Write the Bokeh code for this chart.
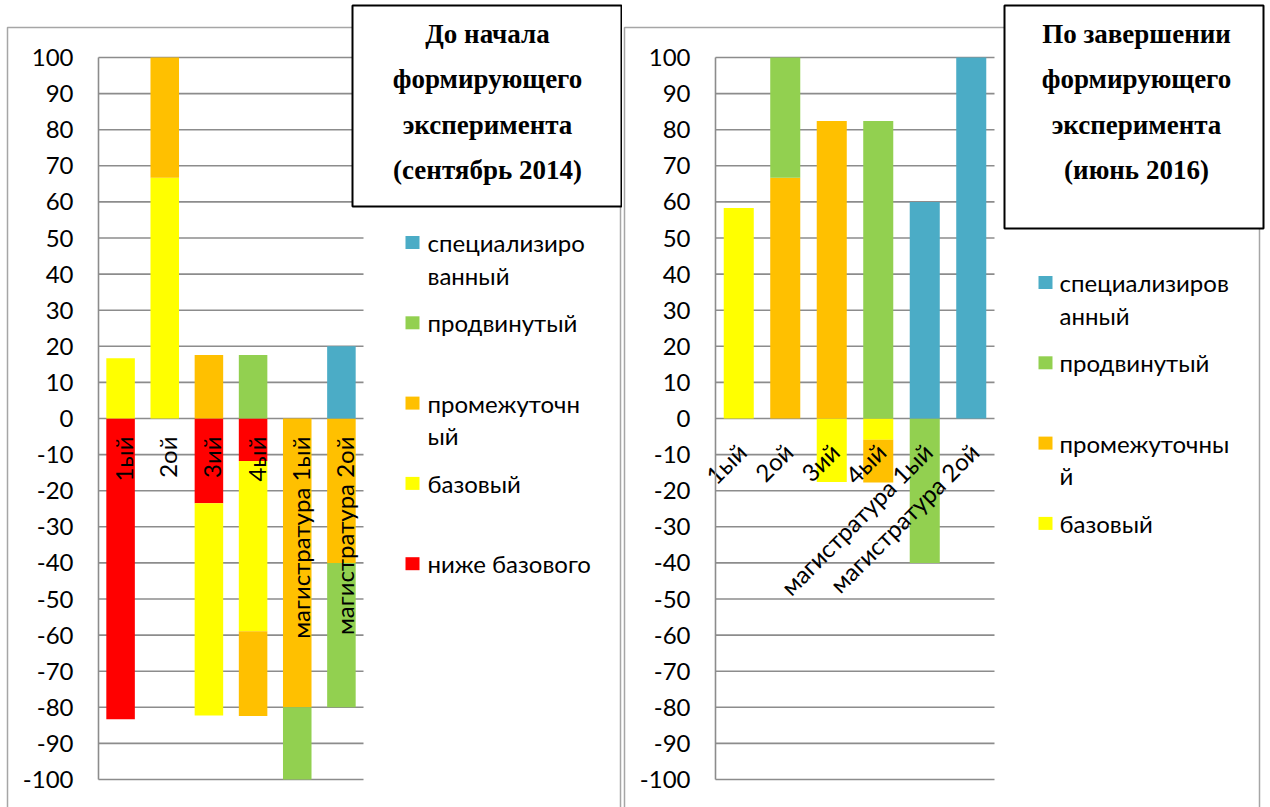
import numpy as np
from bokeh.plotting import figure
from bokeh.models import Range1d, LinearAxis, FixedTicker
from bokeh.layouts import row
from bokeh.core.properties import value
from bokeh.embed import file_html
from bokeh.resources import INLINE

# ---- data -------------------------------------------------------------
categories = ["1ый", "2ой", "3ий", "4ый", "магистратура 1ый", "магистратура 2ой"]
levels = ["ниже базового", "базовый", "промежуточный", "продвинутый", "специализированный"]
level_colors = ["#FF0000", "#FFFF00", "#FFC000", "#92D050", "#4BACC6"]

# September 2014 (signed shares, %)
below_2014 = [-83.3, 0.0, -23.5, -11.8, 0.0, 0.0]
basic_2014 = [16.7, 66.7, -58.8, -47.1, 0.0, 0.0]
inter_2014 = [0.0, 33.3, 17.6, -23.5, -80.0, -40.0]
adv_2014 = [0.0, 0.0, 0.0, 17.6, -20.0, -40.0]
spec_2014 = [0.0, 0.0, 0.0, 0.0, 0.0, 20.0]

# June 2016 (signed shares, %)
below_2016 = [0.0, 0.0, 0.0, 0.0, 0.0, 0.0]
basic_2016 = [58.3, 0.0, -17.6, -5.9, 0.0, 0.0]
inter_2016 = [0.0, 66.7, 82.4, -11.8, 0.0, 0.0]
adv_2016 = [0.0, 33.3, 0.0, 82.4, -40.0, 0.0]
spec_2016 = [0.0, 0.0, 0.0, 0.0, 60.0, 100.0]

y_ticks = list(range(-100, 101, 10))

title_2014 = ["До начала", "формирующего", "эксперимента", "(сентябрь 2014)"]
title_2016 = ["По завершении", "формирующего", "эксперимента", "(июнь 2016)"]

legend_2014 = ["специализиро\nванный", "продвинутый", "промежуточн\nый", "базовый", "ниже базового"]
legend_2016 = ["специализиров\nанный", "продвинутый", "промежуточны\nй", "базовый"]

# ---- styling ----------------------------------------------------------
SANS = "Lato"
SERIF = "Liberation Serif"
SANS_SIZE = "24px"
GRID = "#8c8c8c"
FRAME = "#a6a6a6"
H = 807


def stack_signed(series):
    """Stack signed series: positives upward, negatives downward from zero."""
    n = len(series[0])
    pos = np.zeros(n)
    neg = np.zeros(n)
    out = []
    for vals in series:
        v = np.asarray(vals, dtype=float)
        bottom = np.where(v >= 0, pos, neg)
        top = bottom + v
        pos = np.where(v >= 0, top, pos)
        neg = np.where(v < 0, top, neg)
        out.append((bottom, top, v != 0))
    return out


def make_panel(width, series, cfg):
    left, right, top, bottom = cfg["plot"]
    n = len(categories)
    sx = (right - left) / n
    sy = (bottom - top) / 200.0
    p = figure(
        width=width, height=H,
        x_range=Range1d(-left / sx, (width - left) / sx),
        y_range=Range1d(-100 - (H - bottom) / sy, 100 + top / sy),
        x_axis_type=None, y_axis_type=None,
        output_backend="svg", toolbar_location=None,
        min_border=0, outline_line_color=None,
        background_fill_color="white", border_fill_color="white",
    )
    p.extra_x_ranges = {"px": Range1d(0, width)}
    p.extra_y_ranges = {"px": Range1d(H, 0)}
    px = dict(x_range_name="px", y_range_name="px")

    # chart area frame
    fl, fr, ft = cfg["frame"]
    p.quad(left=fl, right=fr, top=ft, bottom=H + 20, fill_color=None,
           line_color=FRAME, line_width=1.5, **px)

    # horizontal gridlines
    p.segment(x0=0, x1=n, y0=y_ticks, y1=y_ticks, line_color=GRID, line_width=1.6)

    # y axis
    ax = LinearAxis(fixed_location=0, bounds=(-100, 100),
                    ticker=FixedTicker(ticks=y_ticks))
    ax.axis_line_color = GRID
    ax.axis_line_width = 1.6
    ax.major_tick_in = 0
    ax.major_tick_out = 0
    ax.minor_tick_line_color = None
    ax.major_label_standoff = 25
    ax.major_label_text_font = SANS
    ax.major_label_text_font_size = SANS_SIZE
    ax.major_label_text_color = "black"
    ax.major_label_overrides = {t: str(t) for t in y_ticks}
    p.add_layout(ax, "left")

    # stacked bars
    centers = np.arange(n) + 0.5
    for (b, t, m), col in zip(stack_signed(series), level_colors):
        p.vbar(x=centers[m], bottom=b[m], top=t[m], width=0.646,
               fill_color=col, line_color=None)

    # category labels next to the zero line
    p.text(x=centers, y=np.zeros(n), text=categories, angle=cfg["label_angle"],
           text_align="right", text_baseline="middle",
           x_offset=cfg["label_dx"], y_offset=cfg["label_dy"],
           text_font=value(SANS), text_font_size=value(SANS_SIZE), text_color="black")

    # boxed title
    bl, br, bt, bb = cfg["title_box"]
    p.quad(left=bl, right=br, top=bt, bottom=bb, fill_color="white",
           line_color="black", line_width=2, **px)
    lines = cfg["title"]
    p.text(x=[cfg["title_x"]] * len(lines),
           y=[cfg["title_y0"] + i * 45.5 for i in range(len(lines))],
           text=lines, text_align="center", text_baseline="middle",
           text_font=value(SERIF), text_font_style="bold",
           text_font_size=value("27px"), text_color="black", **px)

    # legend
    sq_x, tx_x, y0 = cfg["legend"]
    labels = cfg["legend_labels"]
    cols = cfg["legend_colors"]
    ys = [y0 + i * 80.3 for i in range(len(labels))]
    p.rect(x=[sq_x] * len(labels), y=ys, width=14, height=13,
           fill_color=cols, line_color=None, **px)
    lx, ly, lt = [], [], []
    for yc, lab in zip(ys, labels):
        for j, part in enumerate(lab.split("\n")):
            lx.append(tx_x)
            ly.append(yc + j * 32.5)
            lt.append(part)
    p.text(x=lx, y=ly, text=lt, text_align="left", text_baseline="middle",
           text_font=value(SANS), text_font_size=value(SANS_SIZE), text_color="black", **px)
    return p


left_cfg = dict(
    plot=(98, 363, 57, 779), frame=(7, 620, 27),
    label_angle=np.pi / 2, label_dx=3, label_dy=18,
    title_box=(352, 621, 5, 206), title=title_2014, title_x=487, title_y0=33,
    legend=(412, 427, 242), legend_labels=legend_2014,
    legend_colors=[level_colors[i] for i in (4, 3, 2, 1, 0)],
)
right_cfg = dict(
    plot=(93, 372, 57, 779), frame=(2, 637, 27),
    label_angle=np.pi / 4, label_dx=3, label_dy=29,
    title_box=(382, 641, 5, 228), title=title_2016, title_x=514, title_y0=33,
    legend=(423, 437, 282), legend_labels=legend_2016,
    legend_colors=[level_colors[i] for i in (4, 3, 2, 1)],
)

p1 = make_panel(622, [below_2014, basic_2014, inter_2014, adv_2014, spec_2014], left_cfg)
p2 = make_panel(648, [below_2016, basic_2016, inter_2016, adv_2016, spec_2016], right_cfg)

layout = row(p1, p2, spacing=0)
open("out.html", "w").write(file_html(layout, INLINE))
